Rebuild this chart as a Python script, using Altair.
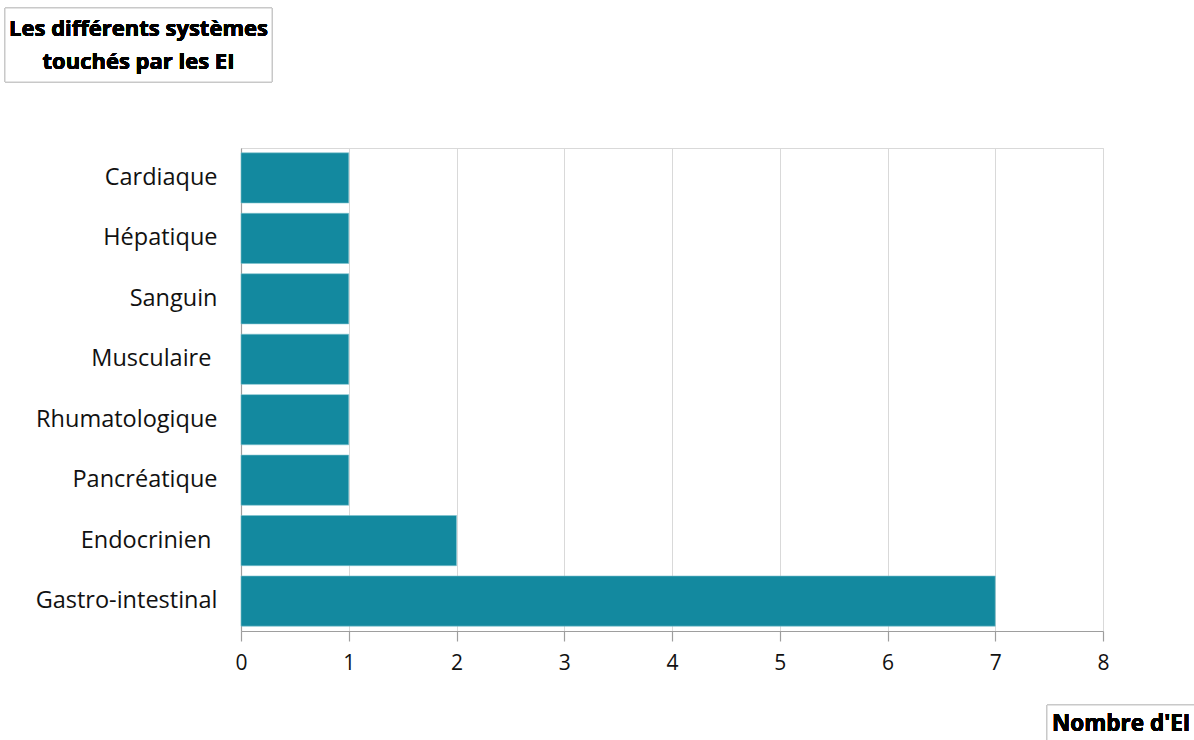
import altair as alt
import pandas as pd

categories = ["Cardiaque", "Hépatique", "Sanguin", "Musculaire\u00a0\u200b", "Rhumatologique",
              "Pancréatique", "Endocrinien\u00a0\u200b", "Gastro-intestinal"]
values = [1, 1, 1, 1, 1, 1, 2, 7]
x_ticks = [0, 1, 2, 3, 4, 5, 6, 7, 8]

df = pd.DataFrame({"systeme": categories, "n": values})

FONT = "Open Sans"
BAR = "#13899F"
W, H = 862, 483

bars = alt.Chart(df).mark_bar(color=BAR, stroke="#7fc3cf", strokeWidth=0.6).encode(
    y=alt.Y("systeme:N", sort=categories, title=None,
            scale=alt.Scale(paddingInner=0.17, paddingOuter=0.08),
            axis=alt.Axis(ticks=False, domain=True, domainColor="#9e9e9e", domainWidth=1.2,
                          labelFont=FONT, labelFontSize=23.5, labelColor="#111111",
                          labelPadding=24, labelLimit=300)),
    x=alt.X("n:Q", title=None, scale=alt.Scale(domain=[0, 8], nice=False),
            axis=alt.Axis(values=x_ticks, format="d", grid=True, gridColor="#d9d9d9",
                          domainColor="#9e9e9e", domainWidth=1.2, tickColor="#9e9e9e",
                          tickSize=10, tickWidth=1.2, labelFlush=False,
                          labelFont=FONT, labelFontSize=21, labelColor="#111111",
                          labelPadding=11)),
)

# title box (top left)
box1 = alt.Chart(df).mark_rect(fill="white", stroke="#c8c8c8", strokeWidth=1).encode(
    x=alt.value(5 - 241), x2=alt.value(272 - 241),
    y=alt.value(8 - 148), y2=alt.value(82 - 148),
)
title1 = alt.Chart(df).mark_text(font=FONT, fontSize=22, fontWeight="bold", color="#000000",
                                 align="center", baseline="middle").encode(
    x=alt.value((5 + 272) / 2 - 241), y=alt.value(29 - 148),
    text=alt.value("Les différents systèmes"),
)
title2 = alt.Chart(df).mark_text(font=FONT, fontSize=22, fontWeight="bold", color="#000000",
                                 align="center", baseline="middle").encode(
    x=alt.value((5 + 272) / 2 - 241), y=alt.value(62 - 148),
    text=alt.value("touchés par les EI"),
)
# axis title box (bottom right)
box2 = alt.Chart(df).mark_rect(fill="white", stroke="#c8c8c8", strokeWidth=1).encode(
    x=alt.value(1047 - 241), x2=alt.value(1230 - 241),
    y=alt.value(705 - 148), y2=alt.value(760 - 148),
)
title3 = alt.Chart(df).mark_text(font=FONT, fontSize=22.5, fontWeight="bold", color="#000000",
                                 align="left", baseline="middle").encode(
    x=alt.value(1052 - 241), y=alt.value(724 - 148),
    text=alt.value("Nombre d'EI"),
)

chart = alt.layer(bars, box1, title1, title2, box2, title3).properties(
    width=W, height=H,
    autosize=alt.AutoSizeParams(type="none"),
    padding={"left": 241, "top": 148, "right": 1194 - 241 - W, "bottom": 740 - 148 - H},
    background="white",
).configure_view(stroke="#d9d9d9", strokeWidth=1)

chart.save("out.html", embed_options={"renderer": "svg", "actions": False})
